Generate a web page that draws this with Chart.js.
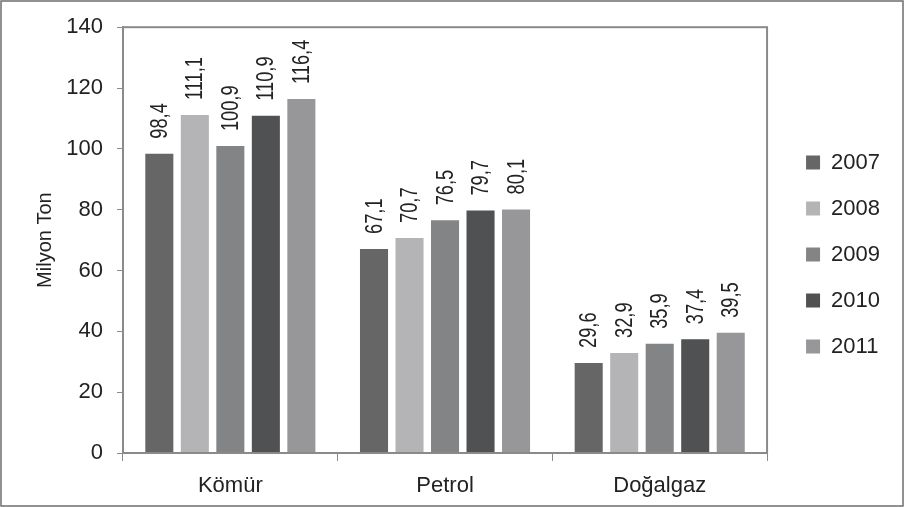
<!DOCTYPE html>
<html>
<head>
<meta charset="utf-8">
<script src="https://cdn.jsdelivr.net/npm/chart.js@4"></script>
<style>
  html, body { margin: 0; padding: 0; background: #fff; }
  #wrap { width: 904px; height: 507px; position: relative; }
</style>
</head>
<body>
<div id="wrap"><canvas id="chart" width="904" height="507"></canvas></div>
<script>
const categories = ['Kömür', 'Petrol', 'Doğalgaz'];
const years = ['2007', '2008', '2009', '2010', '2011'];
const v2007 = [98.4, 67.1, 29.6];
const v2008 = [111.1, 70.7, 32.9];
const v2009 = [100.9, 76.5, 35.9];
const v2010 = [110.9, 79.7, 37.4];
const v2011 = [116.4, 80.1, 39.5];
const yTicks = [0, 20, 40, 60, 80, 100, 120, 140];

const colors = ['#666667', '#b4b4b7', '#838486', '#505153', '#97979a'];
const FONT = '"Liberation Sans", Arial, sans-serif';
const frameColor = '#8a8a8a';

const series = [v2007, v2008, v2009, v2010, v2011];

// outer border + plot frame
const framePlugin = {
    id: 'frame',
    beforeDraw(chart) {
        const c = chart.ctx;
        c.save();
        c.fillStyle = '#fff';
        c.fillRect(0, 0, chart.width, chart.height);
        c.strokeStyle = '#6e6e6e';
        c.lineWidth = 1.5;
        c.strokeRect(1, 1, chart.width - 2, chart.height - 2);
        c.restore();
    },
    afterDraw(chart) {
        const a = chart.chartArea;
        const c = chart.ctx;
        c.save();
        c.strokeStyle = frameColor;
        c.lineWidth = 2;
        c.strokeRect(a.left, a.top, a.right - a.left, a.bottom - a.top);
        c.restore();
    }
};

// rotated value labels above bars (squeezed a bit to look like a narrow face)
const valueLabels = {
    id: 'valueLabels',
    afterDatasetsDraw(chart) {
        const c = chart.ctx;
        c.save();
        c.font = '24px ' + FONT;
        c.fillStyle = '#222';
        c.textAlign = 'left';
        c.textBaseline = 'middle';
        chart.data.datasets.forEach((ds, i) => {
            chart.getDatasetMeta(i).data.forEach((bar, j) => {
                c.save();
                c.translate(bar.x + 1, bar.y - 15);
                c.rotate(-Math.PI / 2);
                c.scale(0.76, 1);
                c.fillText(ds.data[j].toFixed(1).replace('.', ','), 0, 0);
                c.restore();
            });
        });
        c.restore();
    }
};

new Chart(document.getElementById('chart'), {
    type: 'bar',
    data: {
        labels: categories,
        datasets: years.map((y, i) => ({
            label: y,
            data: series[i],
            backgroundColor: colors[i],
            borderWidth: 0,
            categoryPercentage: 0.827,
            barPercentage: 0.79
        }))
    },
    options: {
        responsive: false,
        animation: false,
        layout: { padding: { top: 2, left: 0, right: 14, bottom: 0 } },
        plugins: {
            tooltip: { enabled: false },
            // empty title only used as top spacer above the plot
            title: {
                display: true,
                text: ' ',
                font: { size: 10 },
                padding: { top: 0, bottom: 12 }
            },
            legend: {
                position: 'right',
                labels: {
                    font: { family: FONT, size: 22 },
                    color: '#222',
                    boxWidth: 14,
                    boxHeight: 14,
                    padding: 24
                }
            }
        },
        scales: {
            x: {
                grid: {
                    offset: true,
                    drawOnChartArea: false,
                    tickLength: 8,
                    tickColor: frameColor
                },
                border: { color: frameColor, width: 2 },
                ticks: {
                    font: { family: FONT, size: 22 },
                    color: '#222',
                    padding: 12
                },
                afterFit(s) { s.height = 54; }
            },
            y: {
                min: 0,
                max: 140,
                afterBuildTicks(s) { s.ticks = yTicks.map(v => ({ value: v })); },
                grid: {
                    drawOnChartArea: false,
                    tickLength: 6,
                    tickColor: frameColor
                },
                border: { color: frameColor, width: 2 },
                ticks: {
                    font: { family: FONT, size: 22 },
                    color: '#222',
                    padding: 14
                },
                title: {
                    display: true,
                    text: 'Milyon Ton',
                    font: { family: FONT, size: 20 },
                    color: '#222',
                    padding: { top: 33, bottom: 0 }
                },
                afterFit(s) { s.width = 123; }
            },
            // spacer between plot and legend
            gap: {
                type: 'linear',
                position: 'right',
                display: true,
                grid: { display: false },
                border: { display: false },
                ticks: { display: false },
                afterFit(s) { s.width = 15; }
            }
        }
    },
    plugins: [framePlugin, valueLabels]
});
</script>
</body>
</html>
